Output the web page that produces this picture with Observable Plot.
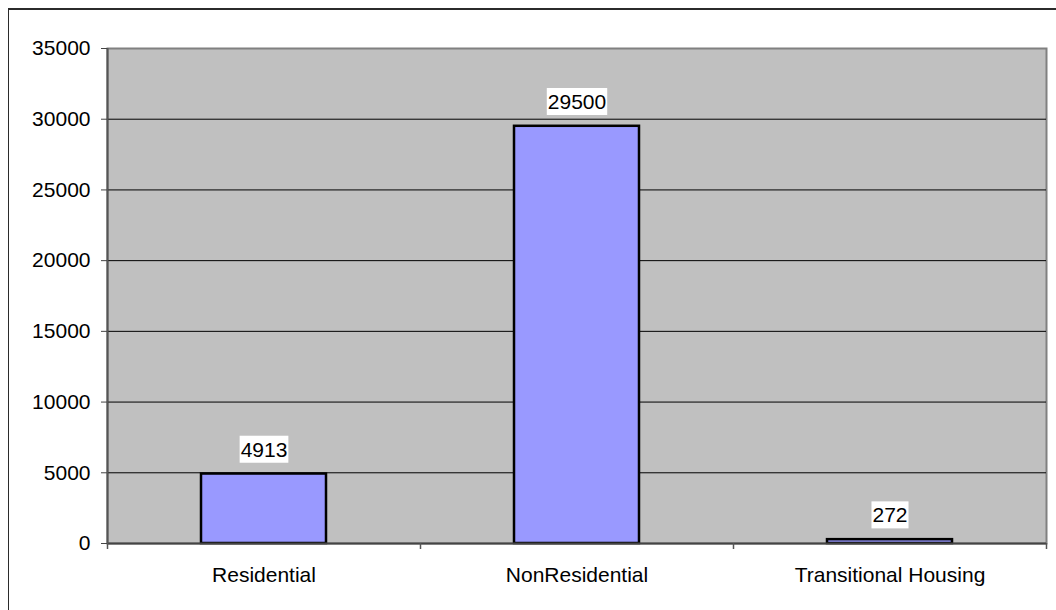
<!DOCTYPE html>
<html>
<head>
<meta charset="utf-8">
<script src="https://cdn.jsdelivr.net/npm/d3@7"></script>
<script src="https://cdn.jsdelivr.net/npm/@observablehq/plot@0.6"></script>
<style>
  html, body { margin: 0; padding: 0; background: #fff; overflow: hidden; }
  #chart { position: relative; width: 1056px; height: 610px; overflow: hidden; background: #fff; }
  #chart svg { position: absolute; left: 0; top: 0; }
  #border {
    position: absolute; left: 8px; top: 8px; width: 1200px; height: 800px;
    border-top: 2px solid #2b2b2b; border-left: 1.5px solid #2b2b2b;
    pointer-events: none; z-index: 2;
  }
</style>
</head>
<body>
<div id="chart"><div id="border"></div></div>
<script>
// Program counts by housing type
const categories = ["Residential", "NonResidential", "Transitional Housing"];
const counts = [4913, 29500, 272];
const yTicks = [0, 5000, 10000, 15000, 20000, 25000, 30000, 35000];
const gridLines = [5000, 10000, 15000, 20000, 25000, 30000];

const data = categories.map((category, i) => ({category, count: counts[i]}));

const W = 1056, H = 610;
const mL = 107, mR = 10, mT = 48, mB = 67;
const step = (W - mL - mR) / categories.length;
const font = "'Liberation Sans', Arial, Helvetica, sans-serif";
const fs = 21;
const last = categories[categories.length - 1];

const plot = Plot.plot({
  width: W,
  height: H,
  marginLeft: mL,
  marginRight: mR,
  marginTop: mT,
  marginBottom: mB,
  style: {fontFamily: font, fontSize: fs + "px", color: "#000", background: "transparent"},
  x: {domain: categories, paddingInner: 0.6, paddingOuter: 0.3, label: null},
  y: {domain: [0, 35000], label: null},
  marks: [
    // grey plot area with its border
    Plot.frame({fill: "#c0c0c0", stroke: "#808080", strokeWidth: 2}),
    Plot.ruleY(gridLines, {stroke: "#000", strokeWidth: 1}),
    Plot.barY(data, {x: "category", y: "count", fill: "#9999ff", stroke: "#000", strokeWidth: 2.5}),
    // axis lines
    Plot.ruleY([0], {stroke: "#444", strokeWidth: 2}),
    Plot.ruleX([categories[0]], {x: d => d, dx: -step / 2, y1: 0, y2: 35000, stroke: "#555", strokeWidth: 2}),
    // tick marks on the category boundaries
    Plot.ruleX(categories, {x: d => d, dx: -step / 2, y1: 0, y2: 0, insetBottom: -6, stroke: "#555", strokeWidth: 1.5}),
    Plot.ruleX([last], {x: d => d, dx: step / 2, y1: 0, y2: 0, insetBottom: -6, stroke: "#555", strokeWidth: 1.5}),
    Plot.axisY(yTicks, {tickSize: 6, tickPadding: 11, stroke: "#444", fontSize: fs, tickFormat: d => String(d), label: null}),
    Plot.axisX({tickSize: 0, tickPadding: 24, fontSize: fs, label: null}),
    // value labels above the bars
    Plot.text(data, {x: "category", y: "count", text: d => String(d.count), dy: -24, fill: "#000", fontSize: fs, lineAnchor: "middle"})
  ]
});

document.getElementById("chart").appendChild(plot);

// white boxes behind the value labels
const labelGroup = plot.querySelector('g[aria-label="text"]');
if (labelGroup) {
  labelGroup.querySelectorAll("text").forEach(t => {
    const b = t.getBBox();
    const r = document.createElementNS("http://www.w3.org/2000/svg", "rect");
    r.setAttribute("x", b.x - 1);
    r.setAttribute("y", b.y - 2);
    r.setAttribute("width", b.width + 2);
    r.setAttribute("height", b.height + 4);
    r.setAttribute("fill", "#fff");
    r.setAttribute("stroke", "none");
    const tr = t.getAttribute("transform");
    if (tr) r.setAttribute("transform", tr);
    labelGroup.insertBefore(r, t);
  });
}
</script>
</body>
</html>
